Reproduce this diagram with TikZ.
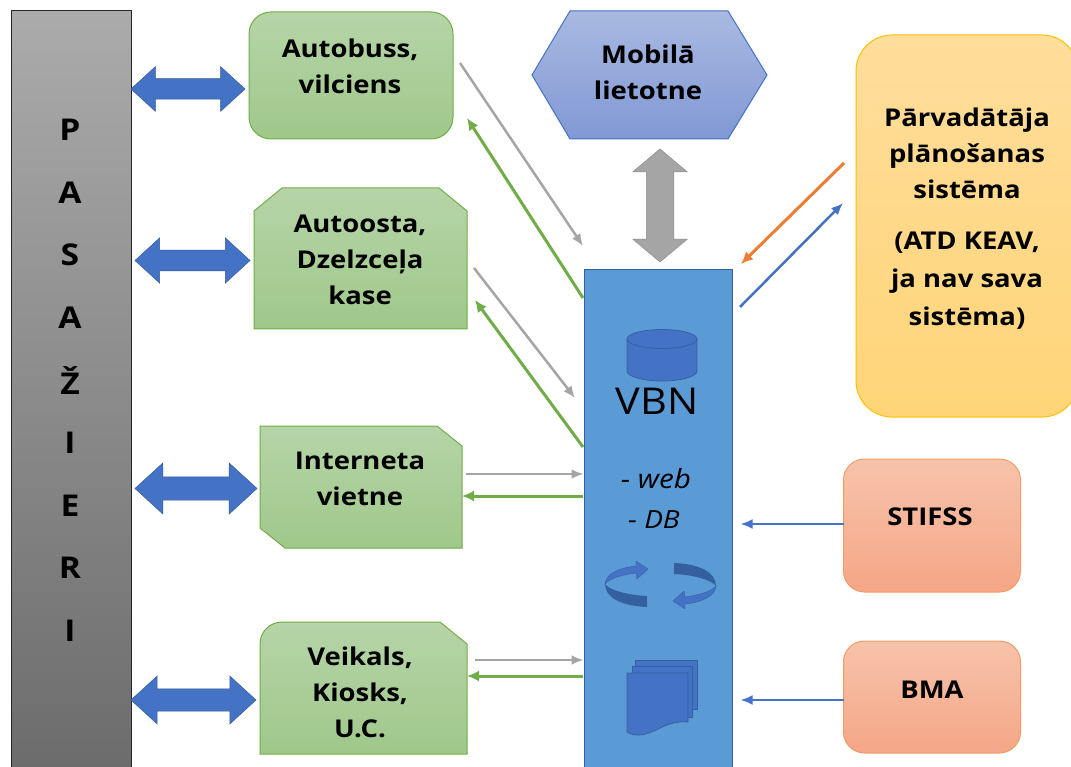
\documentclass[tikz,border=0pt]{standalone}
\usepackage{fontspec}
\setmainfont{Open Sans}[FakeStretch=1.12]
\usetikzlibrary{arrows.meta, shapes.arrows}

\definecolor{greenline}{HTML}{70AD47}
\definecolor{greentop}{HTML}{B6D4A8}
\definecolor{greenbottom}{HTML}{9FC88A}
\definecolor{bluefill}{HTML}{4472C4}
\definecolor{bluedark}{HTML}{35609F}
\definecolor{vbnfill}{HTML}{5B9BD5}
\definecolor{mobtop}{HTML}{A9B9E0}
\definecolor{mobbottom}{HTML}{8098D4}
\definecolor{grayarrow}{HTML}{A5A5A5}
\definecolor{orangeline}{HTML}{ED7D31}
\definecolor{orangetop}{HTML}{F7C3AB}
\definecolor{orangebottom}{HTML}{F5A687}
\definecolor{yellowline}{HTML}{FFC000}
\definecolor{yellowtop}{HTML}{FFDD9B}
\definecolor{yellowbottom}{HTML}{FFD578}

\begin{document}
\begin{tikzpicture}[x=1pt, y=-1pt, line width=1pt,
  greenbox/.style={draw=greenline, top color=greentop, bottom color=greenbottom},
  orangebox/.style={draw=orangeline!75, top color=orangetop, bottom color=orangebottom, rounded corners=21pt, inner sep=0pt, outer sep=0pt},
  boxtext/.style={font=\fontsize{24.5}{36}\selectfont\bfseries, align=center, inner sep=0pt},
  lettertext/.style={font=\fontsize{30}{30}\selectfont\bfseries, inner sep=0pt},
  bluearrow/.style={double arrow, fill=bluefill, draw=bluefill!80!black, line width=.5pt, inner sep=10pt, text height=0pt, text depth=0pt, text width=0pt, double arrow head extend=12pt, double arrow tip angle=85},
  grayline/.style={draw=grayarrow, line width=2.5pt, -{Latex[length=12pt,width=10pt]}},
  greenarrow/.style={draw=greenline, line width=3pt, -{Latex[length=12pt,width=11pt]}},
  orangearrow/.style={draw=orangeline, line width=3pt, -{Latex[length=12pt,width=11pt]}},
  blueline/.style={draw=bluefill, line width=2.5pt, -{Latex[length=12pt,width=10pt]}},
  icon/.style={fill=bluefill, draw=bluedark, line width=.75pt}]

  \clip (0,0) rectangle (1071,767);
  \fill[white] (0,0) rectangle (1071,767);

  % passengers
  \node[draw=black!85, top color=black!33, bottom color=black!58, minimum width=120pt, minimum height=768pt, inner sep=0pt] (pasazieri) at (71,395) {};
  \foreach \letter [count=\i from 0] in {P,A,S,A,Ž,I,E,R,I}
    \node[lettertext] (letter\i) at (70,{130+62.6*\i}) {\letter};

  % left column
  \node[greenbox, rounded corners=22pt, minimum width=204pt, minimum height=127pt, inner sep=0pt] (bus) at (351,75.5) {};
  \node[boxtext] (buslabel) at (350,66) {Autobuss,\\vilciens};

  \draw[greenbox] (254,211) -- (282,188) -- (439,188) -- (467,211) -- (467,329) -- (254,329) -- cycle;
  \node[boxtext] (kaselabel) at (360,260) {Autoosta,\\Dzelzceļa\\kase};

  \draw[greenbox] (260,426) -- (437,426) -- (462,446) -- (462,548) -- (285,548) -- (260,528) -- cycle;
  \node[boxtext] (vietnelabel) at (360,479) {Interneta\\vietne};

  \draw[greenbox] (260,754) -- (260,644) arc[start angle=180, end angle=270, radius=22] -- (440,622) -- (467,644) -- (467,754) -- cycle;
  \node[boxtext] (veikalslabel) at (360,692) {Veikals,\\Kiosks,\\U.C.};

  % double arrows
  \node[bluearrow, minimum height=114pt, minimum width=42pt] (arrowbus) at (188,89) {};
  \node[bluearrow, minimum height=115pt, minimum width=45pt] (arrowkase) at (192.5,260.5) {};
  \node[bluearrow, minimum height=122pt, minimum width=51pt] (arrowvietne) at (196,488.5) {};
  \node[bluearrow, minimum height=125pt, minimum width=48pt] (arrowveikals) at (193.5,700) {};

  % mobile app
  \draw[draw=bluefill, top color=mobtop, bottom color=mobbottom] (532,75) -- (570,11) -- (728,11) -- (767,75) -- (728,139) -- (570,139) -- cycle;
  \node[boxtext] (mobile) at (648,72) {Mobilā\\lietotne};
  \node[double arrow, rotate=90, fill=grayarrow, draw=black!45, line width=.5pt, inner sep=13.5pt, text height=0pt, text depth=0pt, text width=0pt, double arrow head extend=13.5pt, double arrow tip angle=100, minimum height=113pt, minimum width=54pt] (arrowmobile) at (660,205.5) {};

  % central block
  \node[draw=bluedark, fill=vbnfill, minimum width=148pt, minimum height=510pt, inner sep=0pt] (vbn) at (658,525) {};
  \draw[icon] (627,339) -- (627,371) arc[start angle=180, end angle=0, x radius=35, y radius=10] -- (697,339);
  \draw[icon] (662,339) ellipse[x radius=35, y radius=9.5];
  \node[font=\fontsize{37}{37}\selectfont, inner sep=0pt] (vbnlabel) at (657,401) {VBN};
  \node[font=\fontsize{26.5}{26.5}\selectfont\itshape, inner sep=0pt] (web) at (656,479) {- web};
  \node[font=\fontsize{25}{25}\selectfont\itshape, inner sep=0pt] (db) at (654,520) {- DB};

  % cycle arrows
  \foreach \a in {0,180} {
    \begin{scope}[rotate around={\a:(660.5,585)}]
      \fill[bluedark] (647,596) -- (647,607) .. controls (622,606) and (605,598) .. (605,584) .. controls (608,589) and (625,595) .. cycle;
      \fill[bluefill, draw=bluedark, line width=.4pt] (605,584) .. controls (606,574) and (618,568) .. (636,566) -- (636,561) -- (648,569) -- (637,579) -- (636,573) .. controls (622,575) and (610,578) .. cycle;
    \end{scope}
  }

  % document stack
  \draw[icon] (635,660) rectangle (697,709);
  \draw[icon] (632,666) rectangle (692,717);
  \draw[icon] (627,673) -- (688,673) -- (688,722) .. controls (665,720) and (655,735) .. (638,735) .. controls (634,735) and (630,734) .. (627,732) -- cycle;

  % right column
  \node[draw=yellowline, top color=yellowtop, bottom color=yellowbottom, rounded corners=36pt, minimum width=222pt, minimum height=382pt, inner sep=0pt] (atd) at (967,226) {};
  \node[boxtext] (atdtop) at (967,153) {Pārvadātāja\\plānošanas\\sistēma};
  \node[boxtext] (atdbottom) at (967,280.5) {(ATD KEAV,\\[2pt]ja nav sava\\[2pt]sistēma)};
  \node[orangebox, minimum width=177pt, minimum height=133pt] (stifss) at (932,525.5) {};
  \node[boxtext] (stifsslabel) at (930,517) {STIFSS};
  \node[orangebox, minimum width=177pt, minimum height=112pt] (bma) at (932,697) {};
  \node[boxtext] (bmalabel) at (932,690) {BMA};

  % connector ends
  \coordinate (busin) at (460,63);
  \coordinate (vbnbusin) at (583,246);
  \coordinate (vbnbusout) at (583,298);
  \coordinate (busout) at (467,118);
  \coordinate (kasein) at (474,268);
  \coordinate (vbnkasein) at (575,398);
  \coordinate (vbnkaseout) at (583,447);
  \coordinate (kaseout) at (475,300);
  \coordinate (vietnein) at (466,474);
  \coordinate (vietneout) at (583,496);
  \coordinate (vietneend) at (462,496);
  \coordinate (veikalsin) at (475,660);
  \coordinate (veikalsout) at (583,676);
  \coordinate (veikalsend) at (467,676);
  \coordinate (atdout) at (844,163);
  \coordinate (vbnatdin) at (741,264);
  \coordinate (vbnatdout) at (740,307);
  \coordinate (atdin) at (843,203);

  \draw[grayline] (busin) -- (vbnbusin);
  \draw[greenarrow] (vbnbusout) -- (busout);
  \draw[grayline] (kasein) -- (vbnkasein);
  \draw[greenarrow] (vbnkaseout) -- (kaseout);
  \draw[grayline] (vietnein) -- (vbn.west |- vietnein);
  \draw[greenarrow] (vietneout) -- (vietneend);
  \draw[grayline] (veikalsin) -- (vbn.west |- veikalsin);
  \draw[greenarrow] (veikalsout) -- (veikalsend);
  \draw[orangearrow] (atdout) -- (vbnatdin);
  \draw[blueline] (vbnatdout) -- (atdin);
  \draw[blueline] (stifss.west) ++(0,-1.5) -- ++(-103,0);
  \draw[blueline] (bma.west) ++(0,3) -- ++(-103,0);

\end{tikzpicture}
\end{document}
